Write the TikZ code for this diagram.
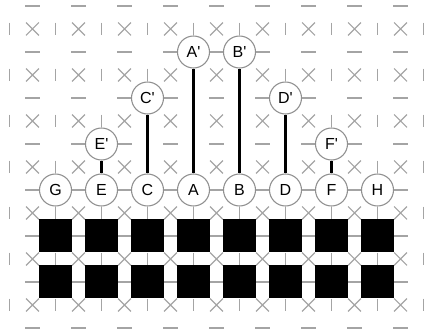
\documentclass[tikz,border=0pt]{standalone}
\font\labf="Liberation Sans" at 12pt
\definecolor{markgray}{HTML}{A4A4A4}
\definecolor{ringgray}{HTML}{909090}
\tikzset{
  mk/.style={draw=markgray, line width=0.8pt},
  qb/.style={circle, fill=white, draw=ringgray, line width=0.8pt, minimum size=24pt, inner sep=0pt, font=\labf},
  sq/.style={fill=black, draw=none, minimum size=24.75pt, inner sep=0pt},
  link/.style={draw=black, line width=2.3pt}
}
\begin{document}
\begin{tikzpicture}[x=34.5pt,y=-34.5pt]
\useasboundingbox (-0.2065,-0.1304) rectangle (9.0326,7.1304);
% horizontal dashes
\foreach \i in {0,...,8} \foreach \j in {0,...,7}
  \draw[mk] ({\i+0.5-0.163},\j) -- ({\i+0.5+0.163},\j);
% vertical bars
\foreach \i in {0,...,9} \foreach \j in {0,...,6}
  \draw[mk] (\i,{\j+0.5-0.141}) -- (\i,{\j+0.5+0.141});
% crosses
\foreach \i in {0,...,8} \foreach \j in {0,...,6}
  \draw[mk] ({\i+0.5-0.141},{\j+0.5-0.141}) -- ({\i+0.5+0.141},{\j+0.5+0.141})
            ({\i+0.5-0.141},{\j+0.5+0.141}) -- ({\i+0.5+0.141},{\j+0.5-0.141});
% squares
\foreach \i in {1,...,8} {
  \node[sq] (s5\i) at (\i,5) {};
  \node[sq] (s6\i) at (\i,6) {};
}
% nodes
\node[qb] (G) at (1,4) {G};
\node[qb] (E) at (2,4) {E};
\node[qb] (C) at (3,4) {C};
\node[qb] (A) at (4,4) {A};
\node[qb] (B) at (5,4) {B};
\node[qb] (D) at (6,4) {D};
\node[qb] (F) at (7,4) {F};
\node[qb] (H) at (8,4) {H};
\node[qb] (Ep) at (2,3) {E'};
\node[qb] (Cp) at (3,2) {C'};
\node[qb] (Ap) at (4,1) {A'};
\node[qb] (Bp) at (5,1) {B'};
\node[qb] (Dp) at (6,2) {D'};
\node[qb] (Fp) at (7,3) {F'};
% links
\draw[link] (Ep) -- (E);
\draw[link] (Cp) -- (C);
\draw[link] (Ap) -- (A);
\draw[link] (Bp) -- (B);
\draw[link] (Dp) -- (D);
\draw[link] (Fp) -- (F);
\end{tikzpicture}
\end{document}
